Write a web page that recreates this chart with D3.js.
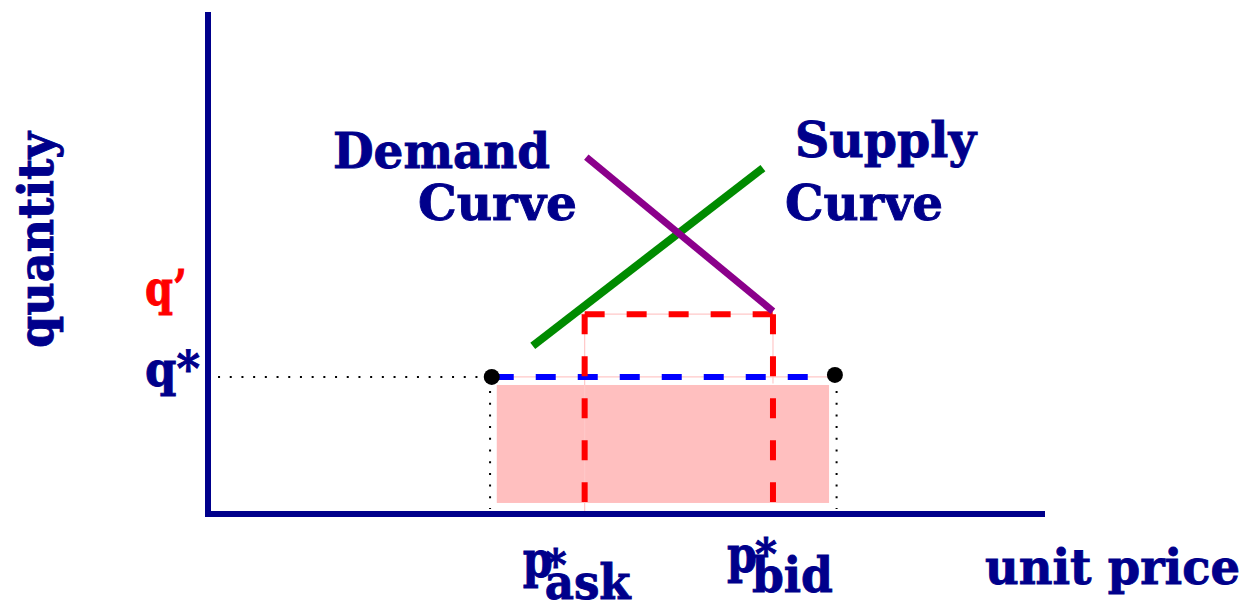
<!DOCTYPE html>
<html>
<head>
<meta charset="utf-8">
<script src="https://cdn.jsdelivr.net/npm/d3@7/dist/d3.min.js"></script>
<style>
  html, body { margin: 0; padding: 0; background: #fff; }
  svg { display: block; }
  text { font-family: "DejaVu Serif", "Liberation Serif", serif; font-weight: bold; }
</style>
</head>
<body>
<script>
// ---- data (price and quantity in abstract units 0..100) ----
const priceLevels = { dotLeft: 33.9, pAsk: 45.0, pBid: 67.5, dotRight: 74.9 };
const quantityLevels = { qStar: 27.3, qPrime: 39.8 };
const supplyCurve = [[38.8, 33.5], [66.3, 68.9]];
const demandCurve = [[45.2, 71.1], [67.5, 40.4]];
const surplusRect = { x0: 34.5, x1: 74.2, y0: 2.2, y1: 25.7 };
const dotPoints = [[33.9, 27.3], [74.9, 27.7]];
const qTickLabels = ["q*", "q\u2019"];
const pTickLabels = [["p", "ask"], ["p", "bid"]];

const W = 1247, H = 602;
const x = d3.scaleLinear().domain([0, 100]).range([208, 1045]);
const y = d3.scaleLinear().domain([0, 100]).range([514, 12]);

const svg = d3.select("body").append("svg").attr("width", W).attr("height", H);
const navy = "#00008B";

// pink surplus rectangle
svg.append("rect")
  .attr("x", x(surplusRect.x0)).attr("y", y(surplusRect.y1))
  .attr("width", x(surplusRect.x1) - x(surplusRect.x0))
  .attr("height", y(surplusRect.y0) - y(surplusRect.y1))
  .attr("fill", "#FFBFBF");

// thin pink guide lines
const pink = "#FFC8C8";
const thin = [
  [[43.8, quantityLevels.qPrime], [priceLevels.pBid, quantityLevels.qPrime]],
  [[priceLevels.dotLeft, quantityLevels.qStar], [priceLevels.dotRight, quantityLevels.qStar]],
  [[priceLevels.pAsk, quantityLevels.qPrime], [priceLevels.pAsk, 0.2]],
  [[priceLevels.pBid, quantityLevels.qPrime], [priceLevels.pBid, 26]]
];
const line = d3.line().x(d => x(d[0])).y(d => y(d[1]));
thin.forEach(t => svg.append("path").attr("d", line(t)).attr("stroke", pink).attr("stroke-width", 1.2).attr("fill", "none"));

// dotted guides
const dotted = [
  [[1.2, quantityLevels.qStar], [priceLevels.dotLeft, quantityLevels.qStar]],
  [[33.7, 24.5], [33.7, 1.0]],
  [[75.1, 24.5], [75.1, 1.0]]
];
dotted.forEach(t => svg.append("path").attr("d", line(t))
  .attr("stroke", "#000").attr("stroke-width", 2).attr("stroke-dasharray", "2 9.7").attr("fill", "none"));

// blue dashed q* line
svg.append("path")
  .attr("d", line([[priceLevels.dotLeft, quantityLevels.qStar], [priceLevels.dotRight, quantityLevels.qStar]]))
  .attr("stroke", "#0000FF").attr("stroke-width", 6).attr("stroke-dasharray", "20 22")
  .attr("stroke-dashoffset", -2).attr("fill", "none");

// red dashed rectangle (q' box)
const redSegs = [
  [[priceLevels.pAsk, quantityLevels.qPrime], [priceLevels.pBid, quantityLevels.qPrime]],
  [[priceLevels.pAsk, quantityLevels.qPrime], [priceLevels.pAsk, 2.4]],
  [[priceLevels.pBid, quantityLevels.qPrime], [priceLevels.pBid, 2.4]]
];
redSegs.forEach(t => svg.append("path").attr("d", line(t))
  .attr("stroke", "#FF0000").attr("stroke-width", 6).attr("stroke-dasharray", "20 22").attr("fill", "none"));

// supply & demand curves
svg.append("path").attr("d", line(supplyCurve)).attr("stroke", "#008B00").attr("stroke-width", 8).attr("fill", "none");
svg.append("path").attr("d", line(demandCurve)).attr("stroke", "#8B008B").attr("stroke-width", 7).attr("fill", "none");

// black dots
svg.selectAll("circle.dot").data(dotPoints).enter().append("circle")
  .attr("cx", d => x(d[0])).attr("cy", d => y(d[1])).attr("r", 8).attr("fill", "#000");

// axes
svg.append("path").attr("d", line([[0, 100], [0, 0], [100, 0]]))
  .attr("stroke", navy).attr("stroke-width", 6).attr("fill", "none");

// labels
function label(txt, px, py, width, color, size, extra) {
  const c = color || navy;
  const t = svg.append("text").attr("x", px).attr("y", py).attr("fill", c)
    .attr("stroke", c).attr("stroke-width", 0.9)
    .attr("font-size", size || 48).text(txt);
  if (width) t.attr("textLength", width).attr("lengthAdjust", "spacingAndGlyphs");
  if (extra) extra(t);
  return t;
}
label("Demand", 333, 168, 217);
label("Curve", 418, 220, 159);
label("Supply", 795, 157, 181);
label("Curve", 785, 220, 158);
label("unit price", 985, 584, 255);
label("quantity", 0, 0, 216, navy, 48, t => t.attr("transform", "translate(53,348) rotate(-90)"));

// q tick labels
label(qTickLabels[0], 145, y(quantityLevels.qStar) + 9, 55);
label(qTickLabels[1], 145, y(quantityLevels.qPrime) - 9, 42, "#FF0000");

// p tick labels
const pPos = [priceLevels.pAsk, priceLevels.pBid];
const pCfg = [
  { px: -62, pb: 577, sx: -40, sb: 580, subx: -40, subb: 599, subw: 86 },
  { px: -46, pb: 572, sx: -18, sb: 569, subx: -21, subb: 592, subw: 81 }
];
pTickLabels.forEach((lab, i) => {
  const cx = x(pPos[i]);
  const c = pCfg[i];
  label(lab[0], cx + c.px, c.pb, 30, navy, 50);
  label("*", cx + c.sx, c.sb, null, navy, 42);
  label(lab[1], cx + c.subx, c.subb, c.subw);
});
</script>
</body>
</html>
